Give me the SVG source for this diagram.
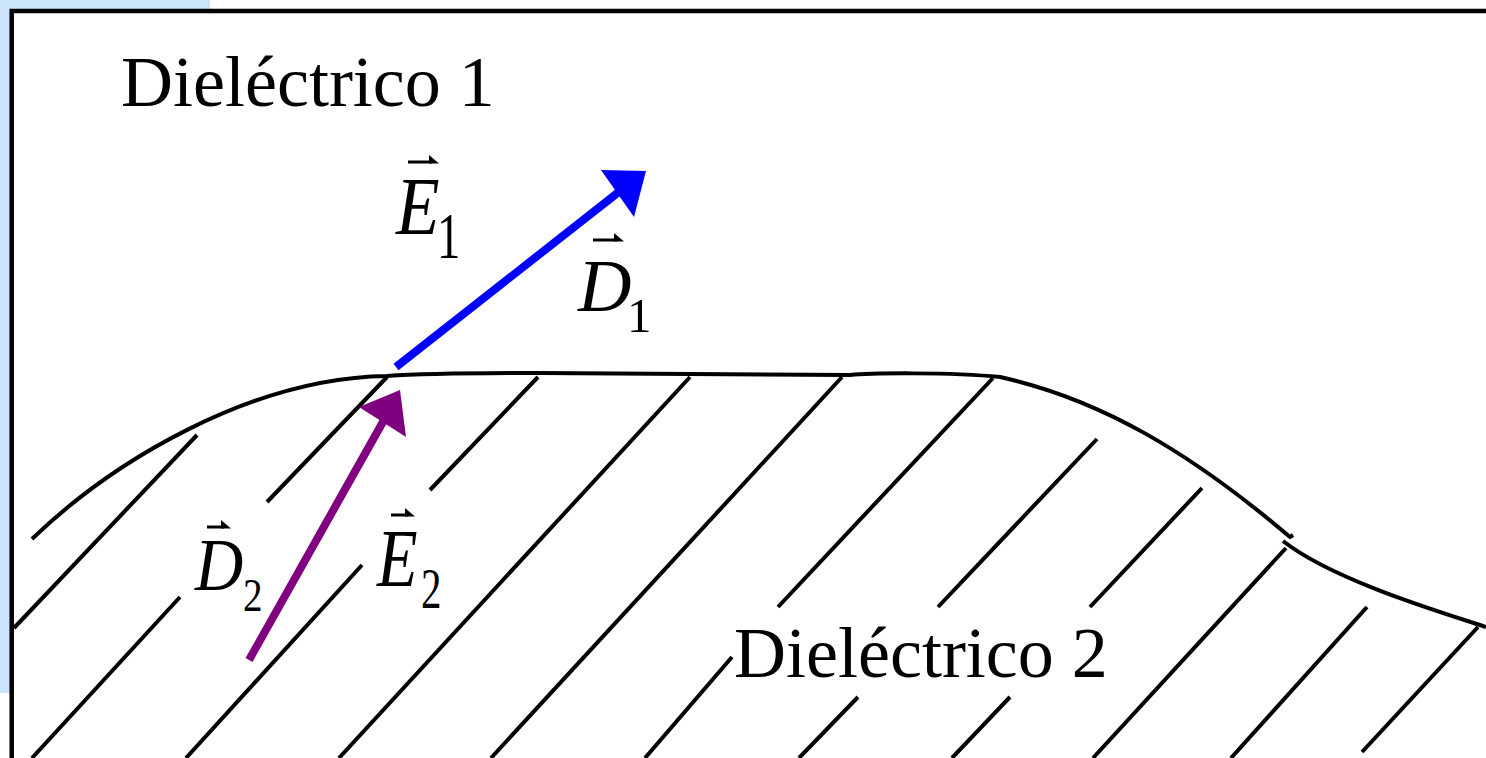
<svg xmlns="http://www.w3.org/2000/svg" width="1486" height="758" viewBox="0 0 1486 758">
<style>
.hatch{stroke:#000;stroke-width:4;fill:none;stroke-linecap:butt}
.curve{stroke:#000;stroke-width:4;fill:none;stroke-linejoin:round}
.lbl{font-family:"Liberation Serif","Times New Roman",serif;fill:#000}
.it{font-family:"Liberation Serif","Times New Roman",serif;font-style:italic;fill:#000}
.vec{stroke:#000;stroke-width:3;fill:none}
</style>
<rect x="0" y="0" width="1486" height="758" fill="#fff"/>
<g id="background">
<rect x="0" y="0" width="210" height="10" fill="#cce4fa"/>
<rect x="0" y="0" width="11" height="693" fill="#cce4fa"/>
<path d="M11.7,758 V11 H1486" stroke="#000" stroke-width="4.5" fill="none"/>
</g>
<g id="dielectric2-hatch">
<path class="hatch" d="M197,435 L14,628"/>
<path class="hatch" d="M387,377 L267,502 M180,597 L32,758"/>
<path class="hatch" d="M538,377 L430,490 M362,565 L186,758"/>
<path class="hatch" d="M690,377 L339,758"/>
<path class="hatch" d="M842,377 L491,758"/>
<path class="hatch" d="M993,378 L778,607 M732,657 L645,758"/>
<path class="hatch" d="M1097,439 L938,607 M858,697 L799,758"/>
<path class="hatch" d="M1202,488 L1090,607 M1010,697 L952,758"/>
<path class="hatch" d="M1286,548 L1093,758"/>
<path class="hatch" d="M1367,607 L1231,758"/>
<path class="hatch" d="M1478,627 L1362,752"/>
</g>
<g id="interface">
<path class="curve" d="M32,539 C112,462 250,378 387,376 C430,373 480,373 540,373 L850,375 C870,373 950,372 1000,377 C1100,399 1190,452 1290,537 L1293,535"/>
<path class="curve" d="M1283,541 C1330,578 1430,609 1480,625 L1486,627"/>
</g>
<g id="label-dielectrico1">
<text class="lbl" x="121" y="106" font-size="72">Dieléctrico 1</text>
</g>
<g id="label-dielectrico2">
<text class="lbl" x="734" y="677" font-size="72">Dieléctrico 2</text>
</g>
<g id="connectors">
<g id="arrow-E1-D1">
<line x1="396" y1="367" x2="620" y2="191" stroke="#0000ff" stroke-width="8"/>
<polygon points="601,170 646,171 634,217" fill="#0000ff"/>
</g>
<g id="arrow-E2-D2">
<line x1="249" y1="660" x2="384" y2="420" stroke="#800080" stroke-width="8"/>
<polygon points="400,390 359,407 406,437" fill="#800080"/>
</g>
</g>
<g id="label-E1">
<text class="it" font-size="82" transform="translate(396,234) scale(0.87,1)">E</text>
<text class="lbl" font-size="65" transform="translate(437,258) scale(0.72,1)">1</text>
<path class="vec" d="M408,162 H432"/><polygon points="429,155 439,163.5 429,163.5" fill="#000"/>
</g>
<g id="label-D1">
<text class="it" font-size="74" transform="translate(578,311)">D</text>
<text class="lbl" font-size="49" transform="translate(627,332)">1</text>
<path class="vec" d="M593,240 H617"/><polygon points="614,233 624,241.5 614,241.5" fill="#000"/>
</g>
<g id="label-D2">
<text class="it" font-size="75" transform="translate(195,590) scale(0.89,1)">D</text>
<text class="lbl" font-size="46" transform="translate(243,611) scale(0.85,1)">2</text>
<path class="vec" d="M207,527 H224"/><polygon points="221,520 231,528.5 221,528.5" fill="#000"/>
</g>
<g id="label-E2">
<text class="it" font-size="83" transform="translate(377,586) scale(0.8,1)">E</text>
<text class="lbl" font-size="56" transform="translate(421,608) scale(0.73,1)">2</text>
<path class="vec" d="M391,515 H408"/><polygon points="405,508 415,516.5 405,516.5" fill="#000"/>
</g>
</svg>
